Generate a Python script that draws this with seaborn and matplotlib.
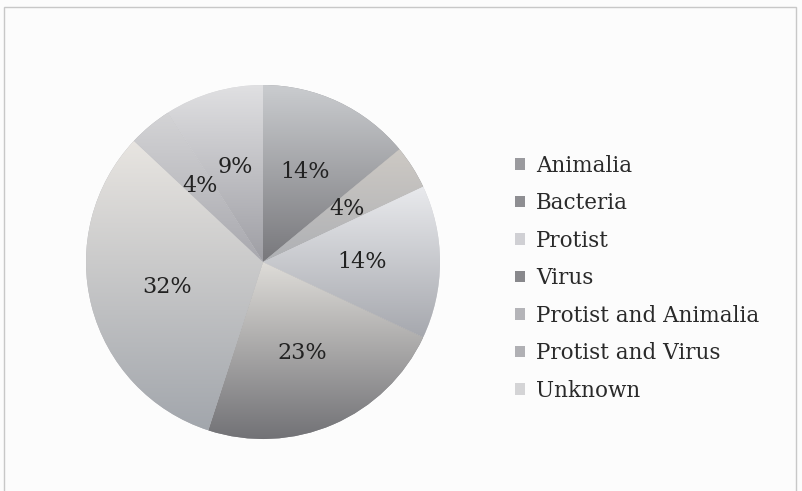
import numpy as np
import matplotlib
matplotlib.use("Agg")
import matplotlib.pyplot as plt
from matplotlib.colors import LinearSegmentedColormap
from matplotlib.patches import Rectangle
import seaborn as sns

sns.set_theme(style="white")
plt.rcParams["font.family"] = ["DejaVu Serif"]

categories = ["Animalia", "Bacteria", "Protist", "Virus",
              "Protist and Animalia", "Protist and Virus", "Unknown"]
shares = [14, 4, 14, 23, 32, 4, 9]

# gradient end colours for each wedge (top, bottom)
top_colors = ["#cacccf", "#cdc9c4", "#e9eaed", "#dedcd8", "#e8e5e1", "#d4d4d6", "#e0e0e2"]
bottom_colors = ["#78787c", "#aeb0b4", "#a6a8ae", "#727276", "#a2a6ac", "#a8a8ae", "#9e9ea4"]
legend_colors = ["#9a9a9e", "#8e8e92", "#d0d0d4", "#88888c", "#b4b4b8", "#b0b0b4", "#d4d4d6"]

fig = plt.figure(figsize=(8.02, 4.91), dpi=100)
fig.patch.set_facecolor("#fcfcfc")
fig.add_artist(Rectangle((4 / 802, -0.01), 792 / 802, (491 - 7) / 491 + 0.01,
                         transform=fig.transFigure, fill=False,
                         edgecolor="#c8c8c8", linewidth=1.0))

ax = fig.add_axes([86 / 802, 52 / 491, 354 / 802, 354 / 491])
ax.set_facecolor("none")

wedges, texts, autotexts = ax.pie(
    shares, colors=legend_colors, startangle=90, counterclock=False,
    autopct=lambda p: f"{p:.0f}%", pctdistance=0.56, radius=1.0,
    textprops=dict(fontsize=16, color="#222222"),
    wedgeprops=dict(linewidth=0))

for w, c_top, c_bot in zip(wedges, top_colors, bottom_colors):
    cmap = LinearSegmentedColormap.from_list("g", [c_bot, c_top])
    bb = w.get_path().get_extents(w.get_transform() - ax.transData)
    grad = np.linspace(0, 1, 256).reshape(-1, 1)
    im = ax.imshow(grad, cmap=cmap, origin="lower", aspect="auto",
                   extent=[bb.x0, bb.x1, bb.y0, bb.y1], zorder=w.get_zorder())
    im.set_clip_path(w)

for t in autotexts:
    t.set_zorder(5)

ax.set_xlim(-1.0, 1.0)
ax.set_ylim(-1.0, 1.0)
ax.set_aspect("equal")
ax.axis("off")

leg = fig.legend(wedges, categories, loc="upper left",
                 bbox_to_anchor=(506 / 802, 1 - 146 / 491),
                 frameon=False, fontsize=15.5, handlelength=0.5, handleheight=0.45,
                 handletextpad=0.5, labelspacing=0.72, borderaxespad=0)
for t in leg.get_texts():
    t.set_color("#2a2a2a")

fig.savefig("out.png", dpi=100, facecolor=fig.get_facecolor())
